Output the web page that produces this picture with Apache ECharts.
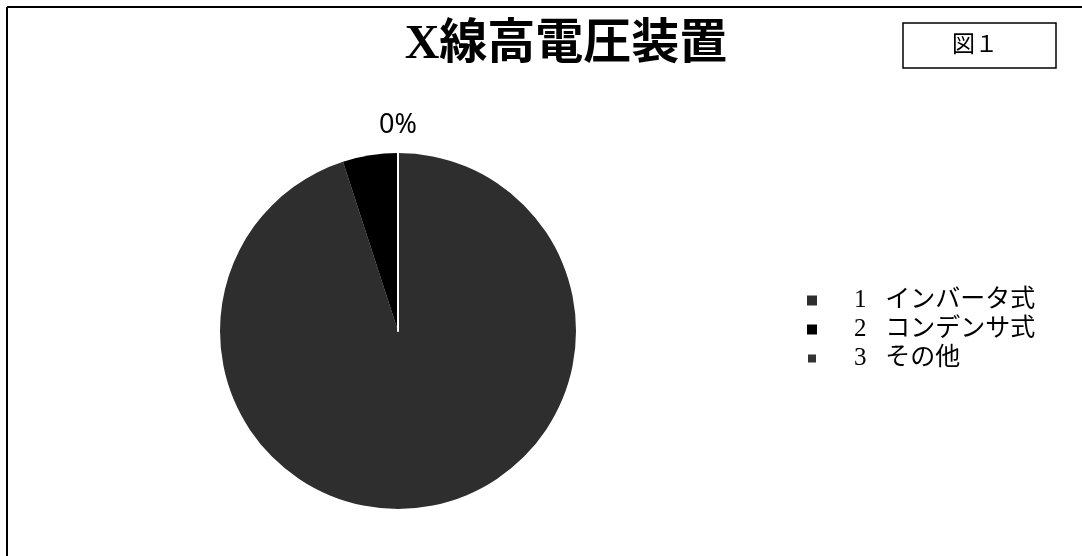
<!DOCTYPE html>
<html>
<head>
<meta charset="utf-8">
<script src="https://cdn.jsdelivr.net/npm/echarts@6/dist/echarts.min.js"></script>
<style>
  html, body { margin: 0; padding: 0; background: #fff; }
  #chart { width: 1082px; height: 556px; }
</style>
</head>
<body>
<div id="chart"></div>
<script>
// X線高電圧装置の内訳
const categories = ['インバータ式', 'コンデンサ式', 'その他']
const values = [95, 5, 0]
const colors = ['#2e2e2e', '#000000', '#333333']

const serif = '"Liberation Serif", "DejaVu Serif", "Noto Sans CJK JP"'

const myChart = echarts.init(document.getElementById('chart'))

const data = categories.map((name, i) => {
  const item = { name, value: values[i], itemStyle: { color: colors[i] } }
  if (values[i] === 0) {
    // 0%の項目だけ白い線とラベルを出す
    item.itemStyle.borderColor = '#ffffff'
    item.itemStyle.borderWidth = 2
    item.label = { show: true }
  }
  return item
})

const option = {
  title: {
    text: 'X線高電圧装置',
    left: 561,
    top: 17,
    textAlign: 'center',
    textStyle: { fontFamily: serif, fontSize: 48, fontWeight: 'bold', color: '#000' }
  },
  legend: {
    orient: 'vertical',
    left: 801,
    top: 283,
    icon: 'rect',
    itemWidth: 10,
    itemHeight: 10,
    itemGap: 4,
    selectedMode: false,
    formatter: name => (categories.indexOf(name) + 1) + '   ' + name,
    textStyle: { fontFamily: serif, fontSize: 25, color: '#000', padding: [0, 0, 0, 32] }
  },
  graphic: [
    { type: 'line', shape: { x1: 7, y1: 7, x2: 1082, y2: 7 }, style: { stroke: '#000', lineWidth: 2 } },
    { type: 'line', shape: { x1: 7, y1: 7, x2: 7, y2: 556 }, style: { stroke: '#000', lineWidth: 2 } },
    { type: 'rect', shape: { x: 903, y: 23, width: 153, height: 45 }, style: { fill: '#fff', stroke: '#000', lineWidth: 1.5 } },
    {
      type: 'text', x: 975, y: 46,
      style: { text: '図１', fontFamily: serif, fontSize: 23, fill: '#000', align: 'center', verticalAlign: 'middle' }
    }
  ],
  series: [
    {
      name: 'X線高電圧装置',
      type: 'pie',
      center: [398, 331],
      radius: [0, 178],
      startAngle: 90,
      clockwise: true,
      silent: true,
      label: {
        show: false,
        formatter: '{d}%',
        fontFamily: '"Noto Sans", sans-serif',
        fontSize: 27,
        color: '#000'
      },
      labelLine: { show: false, length: 10, length2: 0 },
      labelLayout: params => ({
        x: params.rect.x + params.rect.width / 2,
        y: params.rect.y - 27,
        align: 'center',
        verticalAlign: 'middle'
      }),
      emphasis: { disabled: true },
      data
    }
  ]
}
myChart.setOption(option)
</script>
</body>
</html>
